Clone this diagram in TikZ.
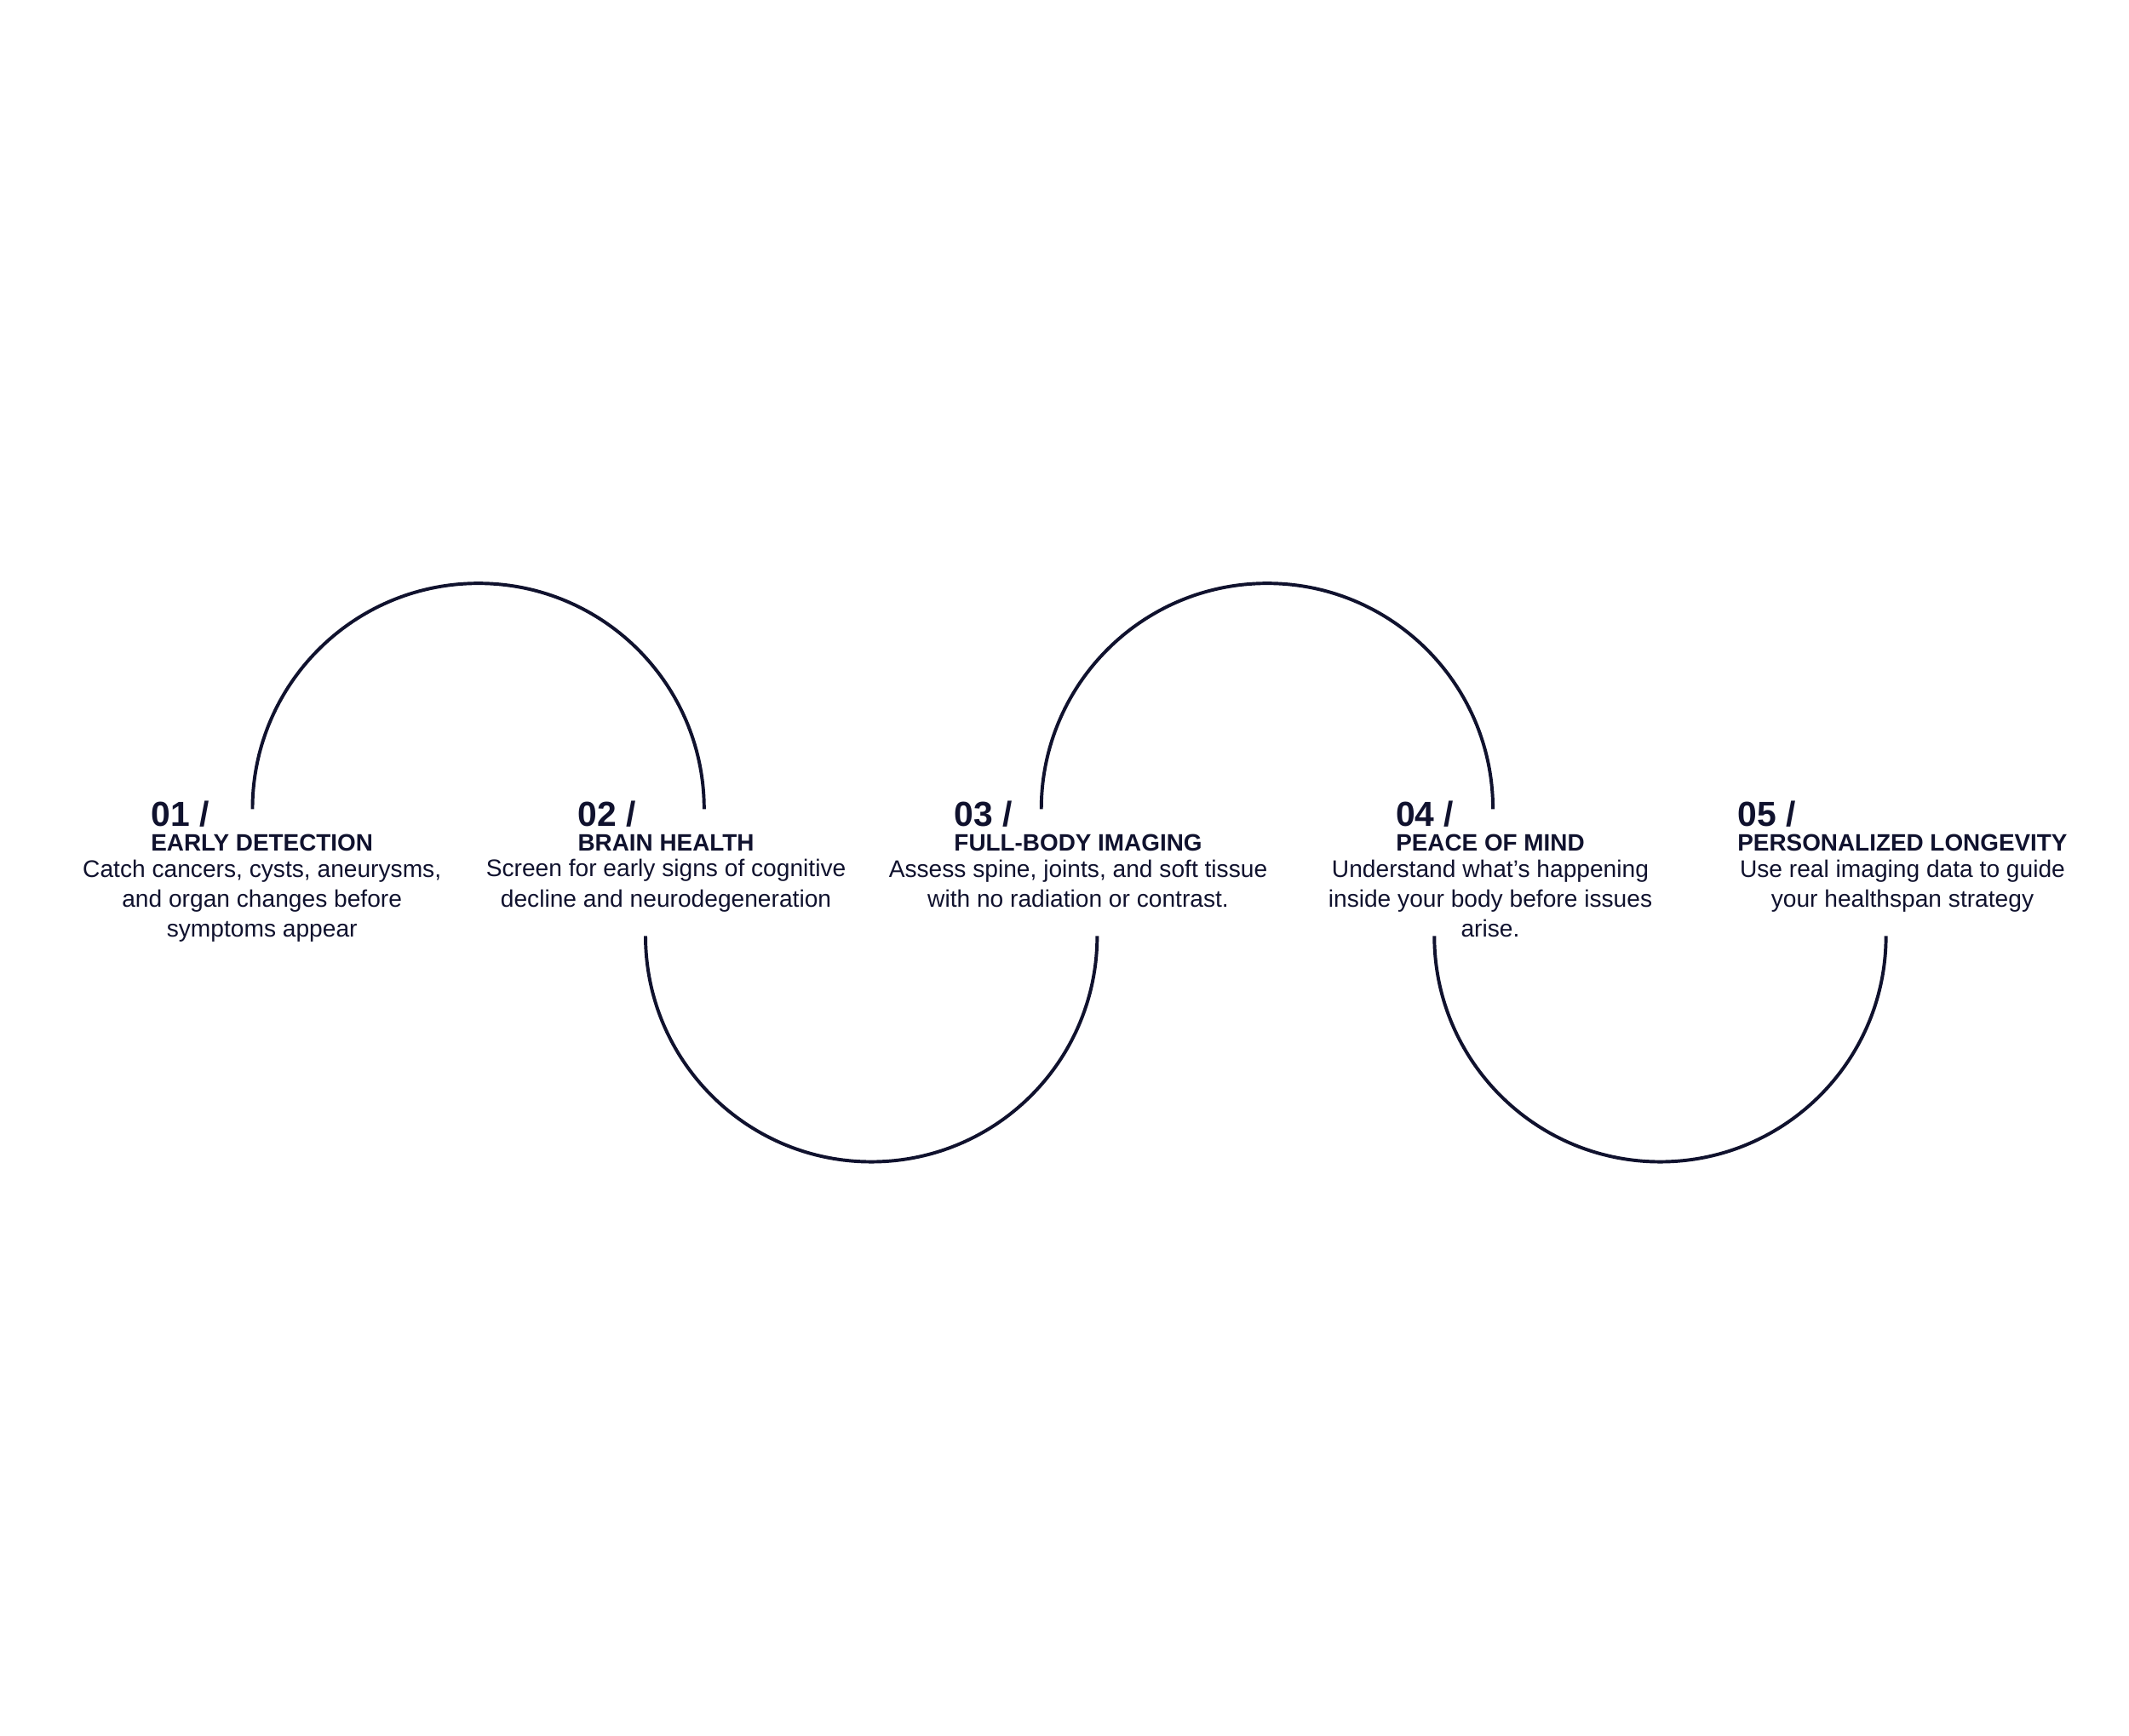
\documentclass[tikz,border=0pt]{standalone}
\usepackage{fontspec}
\setmainfont{Liberation Sans}
\usetikzlibrary{positioning}
\definecolor{navy}{HTML}{10122E}

\begin{document}
\begin{tikzpicture}[x=0.02cm, y=0.02cm, every node/.style={text=navy},
    title/.style={font=\fontsize{9.9}{11}\selectfont\bfseries, inner sep=0pt},
    num/.style={font=\fontsize{14.5}{15}\selectfont\bfseries, inner sep=0pt, anchor=south west},
    body/.style={font=\fontsize{10}{12.5}\selectfont, align=center, inner sep=0pt, below=3pt},
    loop/.style={navy, line width=1.4pt}]
        \useasboundingbox (0,0) rectangle (1560,-1272);
        % arcs
        \draw [loop] (185,-593) arc [start angle=180, end angle=0, radius=3.31cm];
        \draw [loop] (473,-686) arc [start angle=180, end angle=360, radius=3.31cm];
        \draw [loop] (763,-593) arc [start angle=180, end angle=0, radius=3.31cm];
        \draw [loop] (1051,-686) arc [start angle=180, end angle=360, radius=3.31cm];

        % step 1
        \node [title] (t1) at (192,-618) {EARLY DETECTION};
        \node [num] (n1) at ([yshift=3pt]t1.north west) {01 /};
        \node [body] (b1) at (t1.south) {Catch cancers, cysts, aneurysms,\\and organ changes before\\symptoms appear};
        % step 2
        \node [title] (t2) at (488,-618) {BRAIN HEALTH};
        \node [num] (n2) at ([yshift=3pt]t2.north west) {02 /};
        \node [body] (b2) at (t2.south) {Screen for early signs of cognitive\\decline and neurodegeneration};
        % step 3
        \node [title] (t3) at (790,-618) {FULL-BODY IMAGING};
        \node [num] (n3) at ([yshift=3pt]t3.north west) {03 /};
        \node [body] (b3) at (t3.south) {Assess spine, joints, and soft tissue\\with no radiation or contrast.};
        % step 4
        \node [title] (t4) at (1092,-618) {PEACE OF MIND};
        \node [num] (n4) at ([yshift=3pt]t4.north west) {04 /};
        \node [body] (b4) at (t4.south) {Understand what’s happening\\inside your body before issues\\arise.};
        % step 5
        \node [title] (t5) at (1394,-618) {PERSONALIZED LONGEVITY};
        \node [num] (n5) at ([yshift=3pt]t5.north west) {05 /};
        \node [body] (b5) at (t5.south) {Use real imaging data to guide\\your healthspan strategy};
    \end{tikzpicture}
\end{document}
